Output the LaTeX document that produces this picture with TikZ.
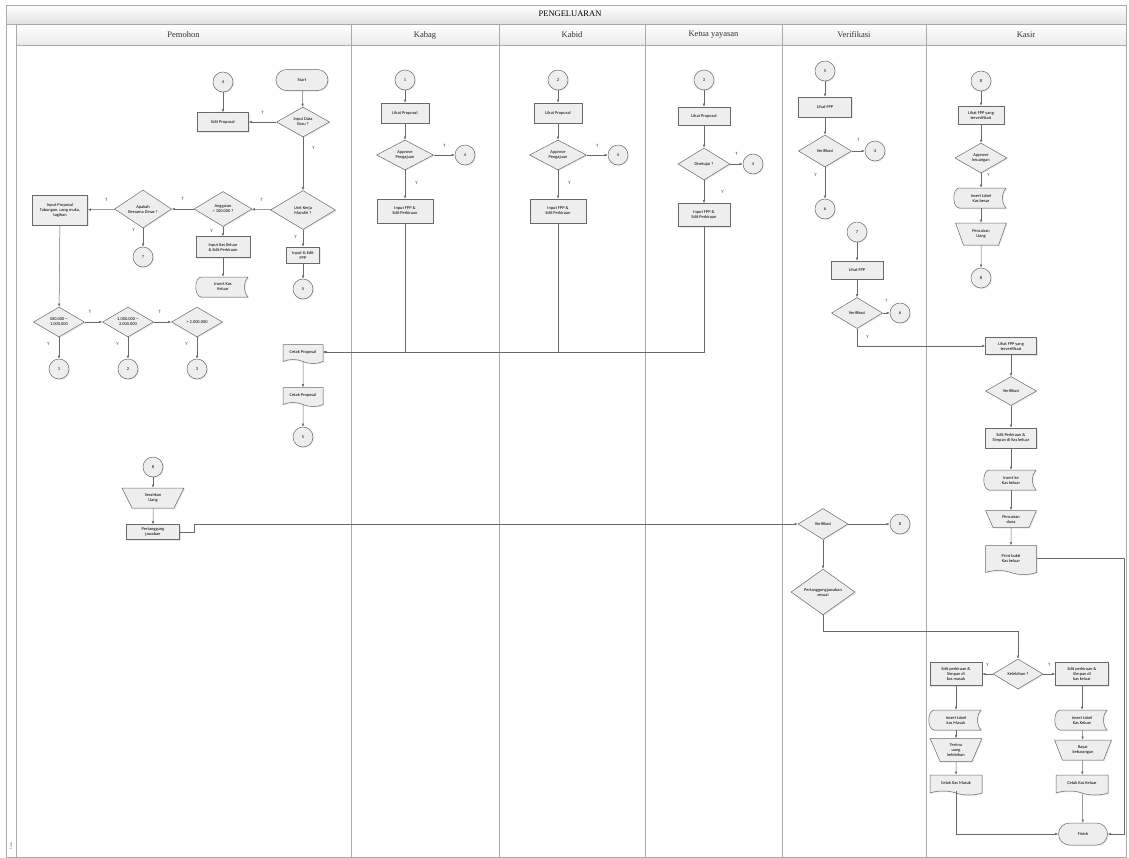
\documentclass[tikz,border=0pt]{standalone}
\usepackage{fontspec}
\setmainfont{Liberation Serif}
\newfontfamily\boxfont{Carlito}
\usepackage{tikz}
\usetikzlibrary{shapes.geometric,shapes.symbols,shapes.misc,arrows.meta,positioning,calc,shadows}
\definecolor{laneGray}{RGB}{170,170,170}
\definecolor{flowGray}{RGB}{105,105,105}
\definecolor{boxGray}{RGB}{238,238,238}
\definecolor{headGray}{RGB}{226,226,226}
\newcommand{\boxtext}{\boxfont\fontsize{4.4}{5}\selectfont}
% stored data shape: outline first, text node on top
\newcommand{\storedbox}[4]{%
  \path[draw=flowGray,line width=.5pt,fill=boxGray,
        drop shadow={opacity=.2,shadow xshift=1pt,shadow yshift=-1pt}]
    (#2-22,#3-10) -- (#2+25,#3-10)
    .. controls (#2+20,#3-4) and (#2+20,#3+4) .. (#2+25,#3+10)
    -- (#2-22,#3+10)
    .. controls (#2-29,#3+9) and (#2-29,#3-9) .. (#2-22,#3-10) -- cycle;
  \node[storetext] (#1) at (#2,#3) {#4};}

\begin{document}
\begin{tikzpicture}[x=1pt,y=-1pt,
  lane/.style={draw=laneGray,line width=.7pt},
  lanetitle/.style={font=\fontsize{8.5}{9}\selectfont,text=black!80},
  base/.style={draw=flowGray,fill=boxGray,line width=.5pt,font=\boxtext,
               align=center,inner sep=1pt,
               drop shadow={opacity=.18,shadow xshift=1pt,shadow yshift=-1pt}},
  proc/.style={base,rectangle,minimum width=52,minimum height=20},
  decide/.style={base,diamond,minimum width=53,minimum height=30,inner sep=0pt},
  conn/.style={base,circle,minimum size=20,inner sep=0pt},
  term/.style={base,rounded rectangle,minimum width=54,minimum height=21},
  docu/.style={base,tape,tape bend top=none,tape bend bottom=out and in,
               tape bend height=4pt,minimum width=50,minimum height=20},
  manual/.style={base,trapezium,trapezium left angle=68,trapezium right angle=68,
                 shape border rotate=180,trapezium stretches=true,
                 minimum width=52,minimum height=21},
  storetext/.style={rectangle,minimum width=50,minimum height=20,inner sep=0pt,
                    font=\boxtext,align=center},
  flow/.style={draw=flowGray,line width=.5pt,-{Latex[length=3.2pt,width=2.6pt]}},
  yt/.style={font=\boxfont\fontsize{4.8}{5}\selectfont,inner sep=0pt,text=black!75}]

\useasboundingbox (0,0) rectangle (1129,857);

% swimlanes
\path[top color=white,bottom color=headGray] (6,5) rectangle (1126,24);
\path[top color=white,bottom color=headGray!70] (16,24) rectangle (1126,45);
\draw[lane] (6,5) rectangle (1126,857);
\draw[lane] (6,24) -- (1126,24);
\draw[lane] (16,45) -- (1126,45);
\foreach \x in {16,351,499,645,782,926}
  \draw[lane] (\x,24) -- (\x,857);
\node[font=\fontsize{8.5}{9}\selectfont] (judul) at (570,14) {PENGELUARAN};
\foreach \x/\name [count=\i] in {183.5/Pemohon,425/Kabag,572/Kabid,
    713.5/Ketua yayasan,854/Verifikasi,1026/Kasir}
  \node[lanetitle] (lane\i) at (\x,35) {\name};
\node[rotate=90,font=\boxfont\fontsize{3.5}{4}\selectfont,text=black!60] (fase) at (11,846) {Fase};

% Pemohon
\node[term] (start) at (302,80) {Start};
\node[conn] (c4a) at (223,82) {4};
\node[proc,minimum width=51,minimum height=19] (editprop) at (223,122) {Edit Proposal};
\node[decide] (baru) at (303,122) {Input Data\\Baru ?};
\node[decide,minimum width=65,minimum height=39] (mandiri) at (303,210) {Unit Kerja\\Mandiri ?};
\node[decide,minimum width=58,minimum height=35] (anggaran) at (223,209) {Anggaran\\< 100.000 ?};
\node[decide,minimum width=57,minimum height=38] (dinas) at (143,209) {Apakah\\Bersama Dinas ?};
\node[proc,minimum width=55,minimum height=30] (inprop) at (60,210) {Input Proposal\\Tabungan, uang muka,\\tagihan};
\node[conn] (c7a) at (143,257) {7};
\node[proc,minimum width=54,minimum height=21] (kaskel) at (223,247) {Input Kas Keluar\\\& Edit Perkiraan};
\storedbox{inskas}{223}{287}{Insert Kas\\Keluar}
\node[proc,minimum width=33,minimum height=16] (fpp) at (303,255) {Input \& Edit\\FPP};
\node[conn] (c5a) at (303,289) {5};
\node[decide,minimum width=51] (r1) at (59,322) {500.000 --\\1.000.000};
\node[decide,minimum width=51] (r2) at (128,322) {1.000.000 --\\2.000.000};
\node[decide,minimum width=51] (r3) at (197,322) {> 2.000.000};
\foreach \x/\n in {59/1,128/2,197/3}
  \node[conn] (c\n a) at (\x,369) {\n};
\node[docu,minimum width=40,minimum height=19] (cetak1) at (303,352) {Cetak Proposal};
\node[docu,minimum width=40,minimum height=19] (cetak2) at (303,395) {Cetak Proposal};
\node[conn] (c5b) at (303,437) {5};
\node[conn] (c8a) at (153,467) {8};
\node[manual,minimum width=62,minimum height=20] (serah) at (153,498) {Serahkan\\Uang};
\node[proc,minimum width=53,minimum height=15] (tanggung) at (153,532) {Pertanggung\\jawaban};

\draw[flow] (start) -- (baru);
\draw[flow] (c4a) -- (editprop);
\draw[flow] (baru) -- node[yt,above=7pt] (t1) {T} (editprop);
\draw[flow] (baru) -- node[yt,pos=.2,right=9pt] (y1) {Y} (mandiri);
\draw[flow] (mandiri) -- node[yt,above=8pt] (t2) {T} (anggaran);
\draw[flow] (mandiri) -- node[yt,pos=.4,left=6pt] (y2) {Y} (fpp);
\draw[flow] (fpp) -- (c5a);
\draw[flow] (anggaran) -- node[yt,above=8pt] (t3) {T} (dinas);
\draw[flow] (anggaran) -- node[yt,pos=.4,left=10pt] (y3) {Y} (kaskel);
\draw[flow] (kaskel) -- (inskas);
\draw[flow] (dinas) -- node[yt,pos=.3,above=8pt] (t4) {T} (inprop);
\draw[flow] (dinas) -- node[yt,pos=.1,left=8pt] (y4) {Y} (c7a);
\draw[flow] (inprop) -- (r1);
\draw[flow] (r1) -- node[yt,pos=.3,above=8pt] (t5) {T} (r2);
\draw[flow] (r2) -- node[yt,pos=.35,above=8pt] (t6) {T} (r3);
\foreach \n in {1,2,3}
  \draw[flow] (r\n) -- node[yt,pos=.3,left=9pt] (y\n r) {Y} (c\n a);
\draw[flow] (cetak1) -- (cetak2);
\draw[flow] (cetak2) -- (c5b);
\draw[flow] (c8a) -- (serah);
\draw[flow] (serah) -- (tanggung);

% Kabag, Kabid
\foreach \x/\n in {405/1,558/2} {
  \node[conn] (c\n k) at (\x,80) {\n};
  \node[proc,minimum width=48] (lp\n) at (\x,113) {Lihat Proposal};
  \node[decide,minimum width=57] (ap\n) at (\x,155) {Approve\\Pengajuan};
  \node[conn] (c4\n) at (\x+60,155) {4};
  \node[proc,minimum width=56,minimum height=24] (fpp\n) at (\x,211) {Input FPP \&\\Edit Perkiraan};
  \draw[flow] (c\n k) -- (lp\n);
  \draw[flow] (lp\n) -- (ap\n);
  \draw[flow] (ap\n) -- node[yt,above=7pt] (t\n k) {T} (c4\n);
  \draw[flow] (ap\n) -- node[yt,pos=.45,right=10pt] (y\n k) {Y} (fpp\n);
  \draw[flow] (fpp\n) |- (cetak1);
}

% Ketua yayasan
\node[conn] (c3k) at (704,80) {3};
\node[proc,minimum width=52,minimum height=18] (lp3) at (704,116) {Lihat Proposal};
\node[decide,minimum width=52,minimum height=32] (setuju) at (704,164) {Disetujui ?};
\node[conn] (c43) at (753,164) {4};
\node[proc,minimum width=52,minimum height=23] (fpp3) at (704,215) {Input FPP \&\\Edit Perkiraan};
\draw[flow] (c3k) -- (lp3);
\draw[flow] (lp3) -- (setuju);
\draw[flow] (setuju) -- node[yt,above=8pt] (t3k) {T} (c43);
\draw[flow] (setuju) -- node[yt,pos=.5,right=17pt] (y3k) {Y} (fpp3);
\draw[flow] (fpp3) |- (cetak1);

% Verifikasi
\node[conn] (c5v) at (825,71) {5};
\node[proc,minimum width=53] (lf1) at (825,107) {Lihat FPP};
\node[decide,minimum height=32] (ver1) at (825,151) {Verifikasi};
\node[conn] (c4v) at (875,151) {4};
\node[conn] (c6v) at (825,209) {6};
\node[conn] (c7v) at (857,232) {7};
\node[proc,minimum height=18] (lf2) at (857,270) {Lihat FPP};
\node[decide,minimum width=51,minimum height=31] (ver2) at (857,313) {Verifikasi};
\node[conn] (c6w) at (900,313) {6};
\node[decide,minimum width=50,minimum height=31] (ver3) at (823,524) {Verifikasi};
\node[conn] (c8v) at (900,524) {8};
\node[decide,minimum width=64,minimum height=40] (sesuai) at (823,592) {Pertanggungjawaban\\sesuai};
\draw[flow] (c5v) -- (lf1);
\draw[flow] (lf1) -- (ver1);
\draw[flow] (ver1) -- node[yt,above=9pt] (t1v) {T} (c4v);
\draw[flow] (ver1) -- node[yt,pos=.25,left=8pt] (y1v) {Y} (c6v);
\draw[flow] (c7v) -- (lf2);
\draw[flow] (lf2) -- (ver2);
\draw[flow] (ver2) -- node[yt,above=10pt] (t2v) {T} (c6w);
\draw[flow] (tanggung.east) -- ++(14,0) |- (ver3.west);
\draw[flow] (ver3) -- (c8v);
\draw[flow] (ver3) -- (sesuai);

% Kasir
\node[conn] (c8k) at (981,81) {8};
\node[proc,minimum width=46,minimum height=18] (kl1) at (981,115) {Lihat FPP yang\\terverifikasi};
\node[decide,minimum width=52] (appk) at (981,158) {Approve\\keuangan};
\storedbox{besar}{981}{198}{Insert tabel\\Kas besar}
\node[manual,minimum width=51,minimum height=22] (cair) at (981,234) {Pencairan\\Uang};
\node[conn] (c8m) at (981,278) {8};
\draw[flow] (c8k) -- (kl1);
\draw[flow] (kl1) -- (appk);
\draw[flow] (appk) -- node[yt,pos=.1,right=6pt] (yk) {Y} (besar);
\draw[flow] (besar) -- (cair);
\draw[flow] (cair) -- (c8m);

\node[proc,minimum width=51,minimum height=17] (kl2) at (1011,346) {Lihat FPP yang\\terverifikasi};
\node[decide,minimum width=51,minimum height=29] (kver) at (1011,391) {Verifikasi};
\node[proc,minimum width=51,minimum height=20] (simpan) at (1011,438) {Edit Perkiraan \&\\Simpan di Kas keluar};
\storedbox{inske}{1011}{480}{Insert ke\\Kas keluar}
\node[manual,minimum width=51,minimum height=17] (dana) at (1011,519) {Pencairan\\dana};
\node[docu,minimum width=51,minimum height=29] (bukti) at (1011,558) {Print bukti\\Kas keluar};
\draw[flow] (ver2) |- node[yt,pos=.25,right=9pt] (y2v) {Y} (kl2);
\draw[flow] (kl2) -- (kver);
\draw[flow] (kver) -- (simpan);
\draw[flow] (simpan) -- (inske);
\draw[flow] (inske) -- (dana);
\draw[flow] (dana) -- (bukti);

\node[decide,minimum width=50,minimum height=30] (lebih) at (1018,674) {Kelebihan ?};
\node[proc,minimum width=52,minimum height=23] (emasuk) at (956,674) {Edit perkiraan \&\\Simpan di\\kas masuk};
\node[proc,minimum width=53,minimum height=23] (ekeluar) at (1082,674) {Edit perkiraan \&\\Simpan di\\kas keluar};
\storedbox{imasuk}{956}{720}{Insert tabel\\kas Masuk}
\storedbox{ikeluar}{1082}{720}{Insert tabel\\Kas Keluar}
\node[manual,minimum width=52,minimum height=23] (terima) at (956,750) {Terima\\uang\\kelebihan};
\node[manual,minimum width=57,minimum height=20] (bayar) at (1083,750) {Bayar\\kekurangan};
\node[docu,minimum width=52,minimum height=20] (cmasuk) at (956,783) {Cetak Kas Masuk};
\node[docu,minimum width=52,minimum height=20] (ckeluar) at (1082,783) {Cetak Kas Keluar};
\node[term,minimum width=51,minimum height=22] (finish) at (1083,834) {Finish};
\draw[flow] (sesuai.south) -- ++(0,16) -| (lebih.north);
\draw[flow] (lebih) -- node[yt,above=7pt] (yl) {Y} (emasuk);
\draw[flow] (lebih) -- node[yt,above=7pt] (tl) {T} (ekeluar);
\draw[flow] (emasuk) -- (imasuk);
\draw[flow] (imasuk) -- (terima);
\draw[flow] (terima) -- (cmasuk);
\draw[flow] (ekeluar) -- (ikeluar);
\draw[flow] (ikeluar) -- (bayar);
\draw[flow] (bayar) -- (ckeluar);
\draw[flow] (ckeluar) -- (finish);
\draw[flow] (cmasuk.south) |- (finish.west);
\draw[flow] (bukti.east) -- ++(87,0) |- (finish.east);
\end{tikzpicture}
\end{document}
